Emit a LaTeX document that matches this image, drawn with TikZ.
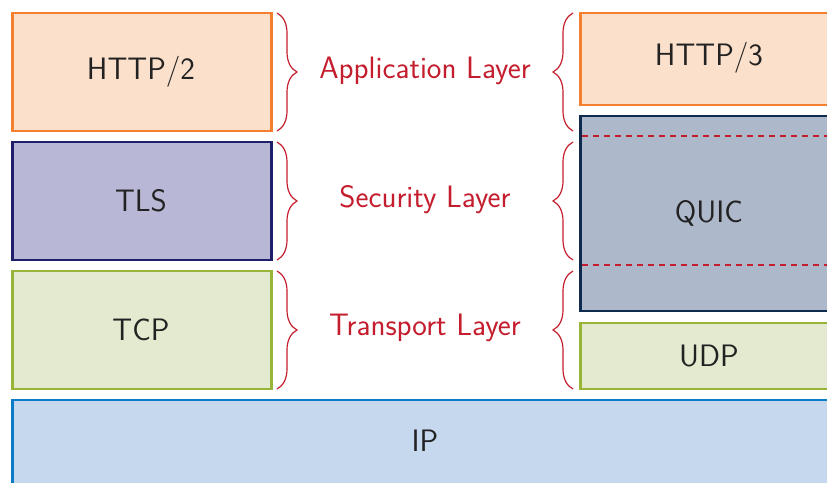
\documentclass[tikz,border=0pt]{standalone}
\usetikzlibrary{decorations.pathreplacing}
\definecolor{appfill}{HTML}{FBE0CB}
\definecolor{appdraw}{HTML}{F47F2F}
\definecolor{secfill}{HTML}{B8B7D5}
\definecolor{secdraw}{HTML}{1E1E6A}
\definecolor{quicfill}{HTML}{ADB8CB}
\definecolor{quicdraw}{HTML}{0E2A4E}
\definecolor{trfill}{HTML}{E3EACF}
\definecolor{trdraw}{HTML}{98B53A}
\definecolor{ipfill}{HTML}{C6D8EE}
\definecolor{ipdraw}{HTML}{0B7BC7}
\definecolor{lblred}{HTML}{C41E2E}
\definecolor{txtgray}{HTML}{222222}
\begin{document}
\begin{tikzpicture}[x=1pt,y=-1pt,
  font=\sffamily\fontsize{31}{36}\selectfont,
  layerbox/.style={line width=2.8pt, text=txtgray},
  bracedec/.style={draw=lblred, line width=1.2pt, decorate, decoration={brace, amplitude=20pt}},
  layerlbl/.style={text=lblred},
  sepline/.style={draw=lblred, line width=1.4pt, dash pattern=on 6pt off 5pt}]
\useasboundingbox (0,0) rectangle (827,482);
\clip (0,0) rectangle (827,482);
% left stack
\draw[layerbox, draw=appdraw, fill=appfill] (12.5,13) rectangle (271.5,131);
\node[text=txtgray] (http2) at (141,72) {HTTP/2};
\draw[layerbox, draw=secdraw, fill=secfill] (12.5,142) rectangle (271.5,260);
\node[text=txtgray] (tls) at (141,201) {TLS};
\draw[layerbox, draw=trdraw, fill=trfill] (12.5,271) rectangle (271.5,389);
\node[text=txtgray] (tcp) at (141,330) {TCP};
% right stack
\draw[layerbox, draw=appdraw, fill=appfill] (580.5,13) rectangle (838,105);
\node[text=txtgray] (http3) at (709,58) {HTTP/3};
\draw[layerbox, draw=quicdraw, fill=quicfill] (580.5,116) rectangle (838,311);
\node[text=txtgray] (quic) at (709,213) {QUIC};
\draw[sepline] (582,136) -- (838,136);
\draw[sepline] (582,265) -- (838,265);
\draw[layerbox, draw=trdraw, fill=trfill] (580.5,323) rectangle (838,389);
\node[text=txtgray] (udp) at (709,356) {UDP};
% IP
\draw[layerbox, draw=ipdraw, fill=ipfill] (12.5,400) rectangle (838,520);
\node[text=txtgray] (ip) at (425,441) {IP};
% labels
\node[layerlbl] (app) at (425,71) {Application Layer};
\node[layerlbl] (sec) at (425,200) {Security Layer};
\node[layerlbl] (tra) at (425,328) {Transport Layer};
% braces
\coordinate (l1a) at (277,13); \coordinate (l1b) at (277,131);
\coordinate (l2a) at (277,142); \coordinate (l2b) at (277,260);
\coordinate (l3a) at (277,271); \coordinate (l3b) at (277,389);
\coordinate (r1a) at (573,13); \coordinate (r1b) at (573,131);
\coordinate (r2a) at (573,142); \coordinate (r2b) at (573,260);
\coordinate (r3a) at (573,271); \coordinate (r3b) at (573,389);
\draw[bracedec] (l1a) -- (l1b);
\draw[bracedec] (l2a) -- (l2b);
\draw[bracedec] (l3a) -- (l3b);
\draw[bracedec] (r1b) -- (r1a);
\draw[bracedec] (r2b) -- (r2a);
\draw[bracedec] (r3b) -- (r3a);
\end{tikzpicture}
\end{document}
